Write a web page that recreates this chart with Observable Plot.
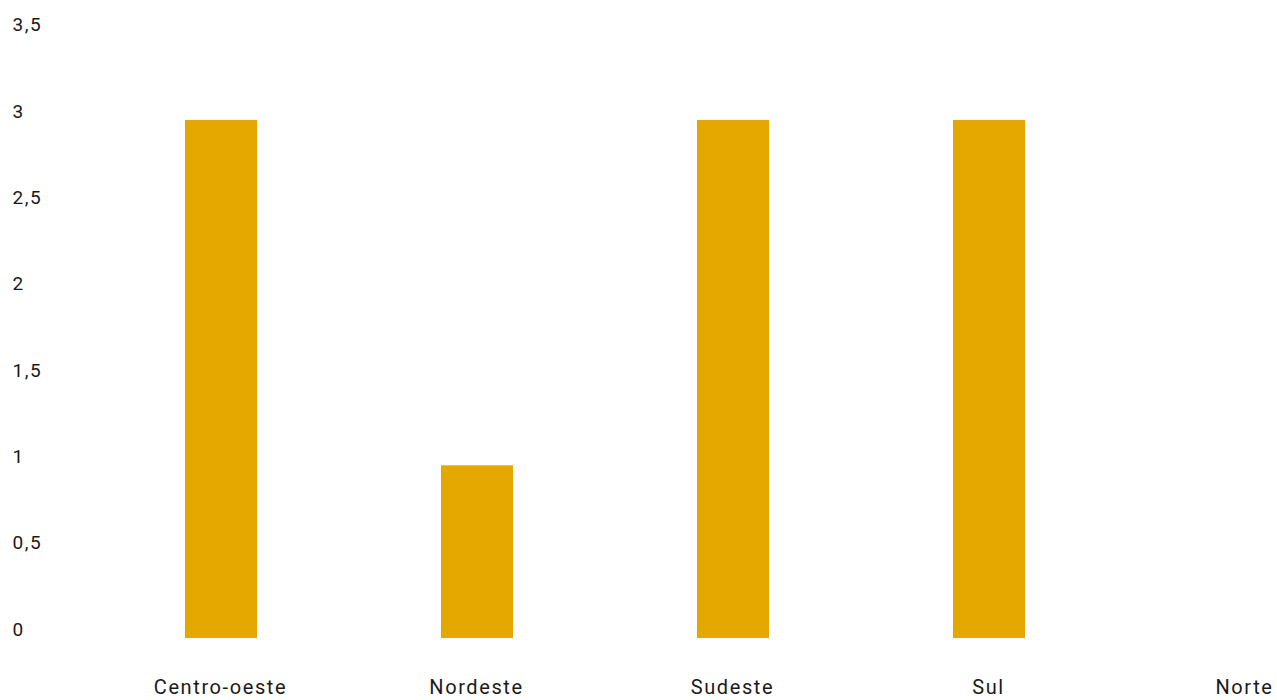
<!DOCTYPE html>
<html>
<head>
<meta charset="utf-8">
<script src="https://cdn.jsdelivr.net/npm/d3@7"></script>
<script src="https://cdn.jsdelivr.net/npm/@observablehq/plot@0.6"></script>
<style>
  html, body { margin: 0; padding: 0; background: #fff; }
  #chart svg { display: block; overflow: visible; }
  #chart svg text { letter-spacing: 1.6px; }
</style>
</head>
<body>
<div id="chart"></div>
<script>
const regions = ["Centro-oeste", "Nordeste", "Sudeste", "Sul", "Norte"];
const values = [3, 1, 3, 3, 0];
const yTicks = [0, 0.5, 1, 1.5, 2, 2.5, 3, 3.5];

const data = regions.map((r, i) => ({region: r, value: values[i]}));
const fmt = v => String(v).replace(".", ",");
const font = "Roboto, sans-serif";

const chart = Plot.plot({
  width: 1277,
  height: 700,
  marginLeft: 12,
  marginRight: 0,
  marginTop: 0,
  marginBottom: 0,
  style: {fontFamily: font, fontSize: "20px", color: "#1a1a1a", background: "#fff"},
  x: {domain: regions, range: [1, 1465], padding: 0.71875, axis: null},
  y: {domain: [0, 3.5], range: [638, 33.6], axis: null},
  marks: [
    Plot.barY(data, {x: "region", y: "value", fill: "#E5A800"}),
    Plot.text(yTicks, {y: d => d, text: d => fmt(d), frameAnchor: "left", textAnchor: "start", dy: -9, fill: "#1a1a1a", fontSize: 19}),
    Plot.text(regions, {x: d => d, y: () => 0, text: d => d, dy: 49, dx: -1, fill: "#1a1a1a", fontSize: 20})
  ]
});
document.getElementById("chart").appendChild(chart);
</script>
</body>
</html>
